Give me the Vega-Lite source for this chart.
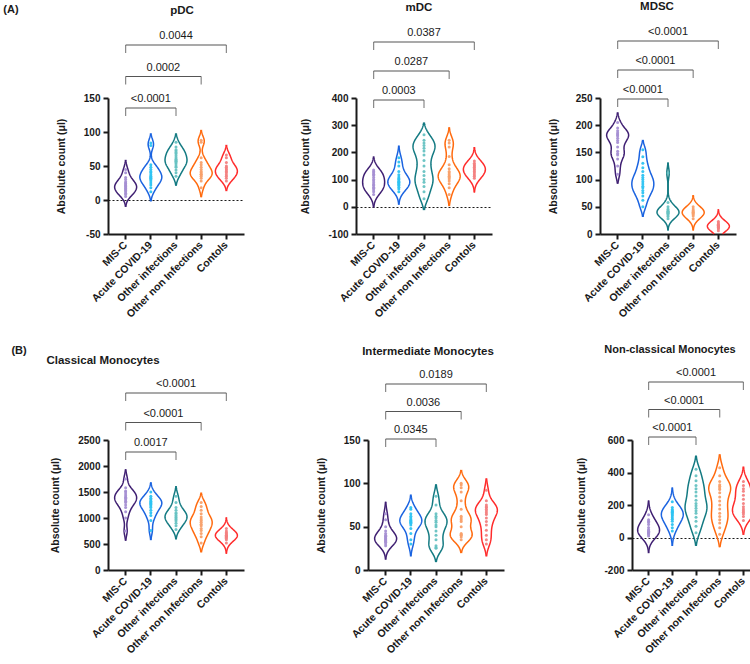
{
"$schema": "https://vega.github.io/schema/vega-lite/v6.json",
"padding": {"left": 3, "top": 0, "right": 0, "bottom": 0},
"background": "white",
"datasets": {
"brk": [
{"rank":1,"cat":"MIS-C"},{"rank":1,"cat":"Other infections"},
{"rank":2,"cat":"MIS-C"},{"rank":2,"cat":"Other non Infections"},
{"rank":3,"cat":"MIS-C"},{"rank":3,"cat":"Contols"}
],
"pv": [
{"panel":"pDC","rank":1,"mid":"Acute COVID-19","p":"<0.0001"},
{"panel":"pDC","rank":2,"mid":"Other infections","p":"0.0002"},
{"panel":"pDC","rank":3,"mid":"Other infections","p":"0.0044"},
{"panel":"mDC","rank":1,"mid":"Acute COVID-19","p":"0.0003"},
{"panel":"mDC","rank":2,"mid":"Other infections","p":"0.0287"},
{"panel":"mDC","rank":3,"mid":"Other infections","p":"0.0387"},
{"panel":"MDSC","rank":1,"mid":"Acute COVID-19","p":"<0.0001"},
{"panel":"MDSC","rank":2,"mid":"Other infections","p":"<0.0001"},
{"panel":"MDSC","rank":3,"mid":"Other infections","p":"<0.0001"},
{"panel":"CM","rank":1,"mid":"Acute COVID-19","p":"0.0017"},
{"panel":"CM","rank":2,"mid":"Other infections","p":"<0.0001"},
{"panel":"CM","rank":3,"mid":"Other infections","p":"<0.0001"},
{"panel":"IM","rank":1,"mid":"Acute COVID-19","p":"0.0345"},
{"panel":"IM","rank":2,"mid":"Other infections","p":"0.0036"},
{"panel":"IM","rank":3,"mid":"Other infections","p":"0.0189"},
{"panel":"NCM","rank":1,"mid":"Acute COVID-19","p":"<0.0001"},
{"panel":"NCM","rank":2,"mid":"Other infections","p":"<0.0001"},
{"panel":"NCM","rank":3,"mid":"Other infections","p":"<0.0001"}
],
"cells": [
{"panel":"pDC","cat":"MIS-C","v":5},{"panel":"pDC","cat":"MIS-C","v":8},{"panel":"pDC","cat":"MIS-C","v":10},{"panel":"pDC","cat":"MIS-C","v":12},{"panel":"pDC","cat":"MIS-C","v":14},{"panel":"pDC","cat":"MIS-C","v":15},{"panel":"pDC","cat":"MIS-C","v":17},{"panel":"pDC","cat":"MIS-C","v":18},{"panel":"pDC","cat":"MIS-C","v":20},{"panel":"pDC","cat":"MIS-C","v":21},{"panel":"pDC","cat":"MIS-C","v":22},{"panel":"pDC","cat":"MIS-C","v":24},{"panel":"pDC","cat":"MIS-C","v":25},{"panel":"pDC","cat":"MIS-C","v":27},{"panel":"pDC","cat":"MIS-C","v":30},{"panel":"pDC","cat":"MIS-C","v":33},{"panel":"pDC","cat":"MIS-C","v":40},{"panel":"pDC","cat":"MIS-C","v":45},
{"panel":"pDC","cat":"Acute COVID-19","v":12},{"panel":"pDC","cat":"Acute COVID-19","v":18},{"panel":"pDC","cat":"Acute COVID-19","v":22},{"panel":"pDC","cat":"Acute COVID-19","v":25},{"panel":"pDC","cat":"Acute COVID-19","v":28},{"panel":"pDC","cat":"Acute COVID-19","v":30},{"panel":"pDC","cat":"Acute COVID-19","v":32},{"panel":"pDC","cat":"Acute COVID-19","v":33},{"panel":"pDC","cat":"Acute COVID-19","v":35},{"panel":"pDC","cat":"Acute COVID-19","v":37},{"panel":"pDC","cat":"Acute COVID-19","v":40},{"panel":"pDC","cat":"Acute COVID-19","v":42},{"panel":"pDC","cat":"Acute COVID-19","v":45},{"panel":"pDC","cat":"Acute COVID-19","v":48},{"panel":"pDC","cat":"Acute COVID-19","v":52},{"panel":"pDC","cat":"Acute COVID-19","v":80},{"panel":"pDC","cat":"Acute COVID-19","v":84},
{"panel":"pDC","cat":"Other infections","v":35},{"panel":"pDC","cat":"Other infections","v":40},{"panel":"pDC","cat":"Other infections","v":44},{"panel":"pDC","cat":"Other infections","v":48},{"panel":"pDC","cat":"Other infections","v":50},{"panel":"pDC","cat":"Other infections","v":53},{"panel":"pDC","cat":"Other infections","v":55},{"panel":"pDC","cat":"Other infections","v":57},{"panel":"pDC","cat":"Other infections","v":58},{"panel":"pDC","cat":"Other infections","v":60},{"panel":"pDC","cat":"Other infections","v":62},{"panel":"pDC","cat":"Other infections","v":65},{"panel":"pDC","cat":"Other infections","v":68},{"panel":"pDC","cat":"Other infections","v":70},{"panel":"pDC","cat":"Other infections","v":72},{"panel":"pDC","cat":"Other infections","v":74},{"panel":"pDC","cat":"Other infections","v":78},{"panel":"pDC","cat":"Other infections","v":85},
{"panel":"pDC","cat":"Other non Infections","v":18},{"panel":"pDC","cat":"Other non Infections","v":28},{"panel":"pDC","cat":"Other non Infections","v":32},{"panel":"pDC","cat":"Other non Infections","v":35},{"panel":"pDC","cat":"Other non Infections","v":37},{"panel":"pDC","cat":"Other non Infections","v":38},{"panel":"pDC","cat":"Other non Infections","v":40},{"panel":"pDC","cat":"Other non Infections","v":42},{"panel":"pDC","cat":"Other non Infections","v":45},{"panel":"pDC","cat":"Other non Infections","v":48},{"panel":"pDC","cat":"Other non Infections","v":52},{"panel":"pDC","cat":"Other non Infections","v":55},{"panel":"pDC","cat":"Other non Infections","v":62},{"panel":"pDC","cat":"Other non Infections","v":85},{"panel":"pDC","cat":"Other non Infections","v":88},
{"panel":"pDC","cat":"Contols","v":28},{"panel":"pDC","cat":"Contols","v":32},{"panel":"pDC","cat":"Contols","v":35},{"panel":"pDC","cat":"Contols","v":37},{"panel":"pDC","cat":"Contols","v":40},{"panel":"pDC","cat":"Contols","v":42},{"panel":"pDC","cat":"Contols","v":44},{"panel":"pDC","cat":"Contols","v":46},{"panel":"pDC","cat":"Contols","v":48},{"panel":"pDC","cat":"Contols","v":50},{"panel":"pDC","cat":"Contols","v":55},{"panel":"pDC","cat":"Contols","v":62},{"panel":"pDC","cat":"Contols","v":66},
{"panel":"mDC","cat":"MIS-C","v":45},{"panel":"mDC","cat":"MIS-C","v":55},{"panel":"mDC","cat":"MIS-C","v":62},{"panel":"mDC","cat":"MIS-C","v":68},{"panel":"mDC","cat":"MIS-C","v":72},{"panel":"mDC","cat":"MIS-C","v":78},{"panel":"mDC","cat":"MIS-C","v":82},{"panel":"mDC","cat":"MIS-C","v":88},{"panel":"mDC","cat":"MIS-C","v":95},{"panel":"mDC","cat":"MIS-C","v":100},{"panel":"mDC","cat":"MIS-C","v":108},{"panel":"mDC","cat":"MIS-C","v":115},{"panel":"mDC","cat":"MIS-C","v":120},{"panel":"mDC","cat":"MIS-C","v":125},{"panel":"mDC","cat":"MIS-C","v":130},{"panel":"mDC","cat":"MIS-C","v":135},
{"panel":"mDC","cat":"Acute COVID-19","v":55},{"panel":"mDC","cat":"Acute COVID-19","v":65},{"panel":"mDC","cat":"Acute COVID-19","v":72},{"panel":"mDC","cat":"Acute COVID-19","v":78},{"panel":"mDC","cat":"Acute COVID-19","v":82},{"panel":"mDC","cat":"Acute COVID-19","v":86},{"panel":"mDC","cat":"Acute COVID-19","v":90},{"panel":"mDC","cat":"Acute COVID-19","v":92},{"panel":"mDC","cat":"Acute COVID-19","v":95},{"panel":"mDC","cat":"Acute COVID-19","v":100},{"panel":"mDC","cat":"Acute COVID-19","v":104},{"panel":"mDC","cat":"Acute COVID-19","v":110},{"panel":"mDC","cat":"Acute COVID-19","v":118},{"panel":"mDC","cat":"Acute COVID-19","v":130},{"panel":"mDC","cat":"Acute COVID-19","v":150},{"panel":"mDC","cat":"Acute COVID-19","v":165},{"panel":"mDC","cat":"Acute COVID-19","v":180},
{"panel":"mDC","cat":"Other infections","v":30},{"panel":"mDC","cat":"Other infections","v":55},{"panel":"mDC","cat":"Other infections","v":75},{"panel":"mDC","cat":"Other infections","v":90},{"panel":"mDC","cat":"Other infections","v":100},{"panel":"mDC","cat":"Other infections","v":115},{"panel":"mDC","cat":"Other infections","v":130},{"panel":"mDC","cat":"Other infections","v":150},{"panel":"mDC","cat":"Other infections","v":170},{"panel":"mDC","cat":"Other infections","v":190},{"panel":"mDC","cat":"Other infections","v":205},{"panel":"mDC","cat":"Other infections","v":215},{"panel":"mDC","cat":"Other infections","v":225},{"panel":"mDC","cat":"Other infections","v":235},{"panel":"mDC","cat":"Other infections","v":245},{"panel":"mDC","cat":"Other infections","v":265},
{"panel":"mDC","cat":"Other non Infections","v":45},{"panel":"mDC","cat":"Other non Infections","v":70},{"panel":"mDC","cat":"Other non Infections","v":85},{"panel":"mDC","cat":"Other non Infections","v":95},{"panel":"mDC","cat":"Other non Infections","v":102},{"panel":"mDC","cat":"Other non Infections","v":108},{"panel":"mDC","cat":"Other non Infections","v":112},{"panel":"mDC","cat":"Other non Infections","v":118},{"panel":"mDC","cat":"Other non Infections","v":124},{"panel":"mDC","cat":"Other non Infections","v":130},{"panel":"mDC","cat":"Other non Infections","v":140},{"panel":"mDC","cat":"Other non Infections","v":155},{"panel":"mDC","cat":"Other non Infections","v":185},{"panel":"mDC","cat":"Other non Infections","v":220},{"panel":"mDC","cat":"Other non Infections","v":235},{"panel":"mDC","cat":"Other non Infections","v":245},
{"panel":"mDC","cat":"Contols","v":105},{"panel":"mDC","cat":"Contols","v":112},{"panel":"mDC","cat":"Contols","v":118},{"panel":"mDC","cat":"Contols","v":124},{"panel":"mDC","cat":"Contols","v":130},{"panel":"mDC","cat":"Contols","v":135},{"panel":"mDC","cat":"Contols","v":140},{"panel":"mDC","cat":"Contols","v":145},{"panel":"mDC","cat":"Contols","v":150},{"panel":"mDC","cat":"Contols","v":155},{"panel":"mDC","cat":"Contols","v":160},{"panel":"mDC","cat":"Contols","v":168},
{"panel":"MDSC","cat":"MIS-C","v":110},{"panel":"MDSC","cat":"MIS-C","v":125},{"panel":"MDSC","cat":"MIS-C","v":138},{"panel":"MDSC","cat":"MIS-C","v":145},{"panel":"MDSC","cat":"MIS-C","v":148},{"panel":"MDSC","cat":"MIS-C","v":152},{"panel":"MDSC","cat":"MIS-C","v":160},{"panel":"MDSC","cat":"MIS-C","v":168},{"panel":"MDSC","cat":"MIS-C","v":172},{"panel":"MDSC","cat":"MIS-C","v":176},{"panel":"MDSC","cat":"MIS-C","v":180},{"panel":"MDSC","cat":"MIS-C","v":182},{"panel":"MDSC","cat":"MIS-C","v":184},{"panel":"MDSC","cat":"MIS-C","v":186},{"panel":"MDSC","cat":"MIS-C","v":190},{"panel":"MDSC","cat":"MIS-C","v":195},{"panel":"MDSC","cat":"MIS-C","v":205},
{"panel":"MDSC","cat":"Acute COVID-19","v":50},{"panel":"MDSC","cat":"Acute COVID-19","v":62},{"panel":"MDSC","cat":"Acute COVID-19","v":70},{"panel":"MDSC","cat":"Acute COVID-19","v":76},{"panel":"MDSC","cat":"Acute COVID-19","v":80},{"panel":"MDSC","cat":"Acute COVID-19","v":85},{"panel":"MDSC","cat":"Acute COVID-19","v":88},{"panel":"MDSC","cat":"Acute COVID-19","v":92},{"panel":"MDSC","cat":"Acute COVID-19","v":96},{"panel":"MDSC","cat":"Acute COVID-19","v":100},{"panel":"MDSC","cat":"Acute COVID-19","v":104},{"panel":"MDSC","cat":"Acute COVID-19","v":108},{"panel":"MDSC","cat":"Acute COVID-19","v":115},{"panel":"MDSC","cat":"Acute COVID-19","v":122},{"panel":"MDSC","cat":"Acute COVID-19","v":130},{"panel":"MDSC","cat":"Acute COVID-19","v":142},{"panel":"MDSC","cat":"Acute COVID-19","v":155},
{"panel":"MDSC","cat":"Other infections","v":28},{"panel":"MDSC","cat":"Other infections","v":32},{"panel":"MDSC","cat":"Other infections","v":35},{"panel":"MDSC","cat":"Other infections","v":37},{"panel":"MDSC","cat":"Other infections","v":38},{"panel":"MDSC","cat":"Other infections","v":40},{"panel":"MDSC","cat":"Other infections","v":41},{"panel":"MDSC","cat":"Other infections","v":42},{"panel":"MDSC","cat":"Other infections","v":44},{"panel":"MDSC","cat":"Other infections","v":46},{"panel":"MDSC","cat":"Other infections","v":50},{"panel":"MDSC","cat":"Other infections","v":58},{"panel":"MDSC","cat":"Other infections","v":112},
{"panel":"MDSC","cat":"Other non Infections","v":28},{"panel":"MDSC","cat":"Other non Infections","v":33},{"panel":"MDSC","cat":"Other non Infections","v":36},{"panel":"MDSC","cat":"Other non Infections","v":38},{"panel":"MDSC","cat":"Other non Infections","v":40},{"panel":"MDSC","cat":"Other non Infections","v":41},{"panel":"MDSC","cat":"Other non Infections","v":43},{"panel":"MDSC","cat":"Other non Infections","v":46},{"panel":"MDSC","cat":"Other non Infections","v":50},
{"panel":"MDSC","cat":"Contols","v":6},{"panel":"MDSC","cat":"Contols","v":9},{"panel":"MDSC","cat":"Contols","v":11},{"panel":"MDSC","cat":"Contols","v":12},{"panel":"MDSC","cat":"Contols","v":13},{"panel":"MDSC","cat":"Contols","v":14},{"panel":"MDSC","cat":"Contols","v":15},{"panel":"MDSC","cat":"Contols","v":16},{"panel":"MDSC","cat":"Contols","v":18},{"panel":"MDSC","cat":"Contols","v":20},{"panel":"MDSC","cat":"Contols","v":23},
{"panel":"CM","cat":"MIS-C","v":750},{"panel":"CM","cat":"MIS-C","v":1000},{"panel":"CM","cat":"MIS-C","v":1120},{"panel":"CM","cat":"MIS-C","v":1200},{"panel":"CM","cat":"MIS-C","v":1250},{"panel":"CM","cat":"MIS-C","v":1300},{"panel":"CM","cat":"MIS-C","v":1320},{"panel":"CM","cat":"MIS-C","v":1350},{"panel":"CM","cat":"MIS-C","v":1380},{"panel":"CM","cat":"MIS-C","v":1400},{"panel":"CM","cat":"MIS-C","v":1430},{"panel":"CM","cat":"MIS-C","v":1460},{"panel":"CM","cat":"MIS-C","v":1500},{"panel":"CM","cat":"MIS-C","v":1520},{"panel":"CM","cat":"MIS-C","v":1580},{"panel":"CM","cat":"MIS-C","v":1750},
{"panel":"CM","cat":"Acute COVID-19","v":760},{"panel":"CM","cat":"Acute COVID-19","v":950},{"panel":"CM","cat":"Acute COVID-19","v":1050},{"panel":"CM","cat":"Acute COVID-19","v":1100},{"panel":"CM","cat":"Acute COVID-19","v":1150},{"panel":"CM","cat":"Acute COVID-19","v":1200},{"panel":"CM","cat":"Acute COVID-19","v":1230},{"panel":"CM","cat":"Acute COVID-19","v":1260},{"panel":"CM","cat":"Acute COVID-19","v":1280},{"panel":"CM","cat":"Acute COVID-19","v":1300},{"panel":"CM","cat":"Acute COVID-19","v":1320},{"panel":"CM","cat":"Acute COVID-19","v":1350},{"panel":"CM","cat":"Acute COVID-19","v":1380},{"panel":"CM","cat":"Acute COVID-19","v":1420},{"panel":"CM","cat":"Acute COVID-19","v":1500},
{"panel":"CM","cat":"Other infections","v":780},{"panel":"CM","cat":"Other infections","v":850},{"panel":"CM","cat":"Other infections","v":900},{"panel":"CM","cat":"Other infections","v":940},{"panel":"CM","cat":"Other infections","v":970},{"panel":"CM","cat":"Other infections","v":1000},{"panel":"CM","cat":"Other infections","v":1020},{"panel":"CM","cat":"Other infections","v":1050},{"panel":"CM","cat":"Other infections","v":1080},{"panel":"CM","cat":"Other infections","v":1100},{"panel":"CM","cat":"Other infections","v":1150},{"panel":"CM","cat":"Other infections","v":1200},{"panel":"CM","cat":"Other infections","v":1300},{"panel":"CM","cat":"Other infections","v":1420},
{"panel":"CM","cat":"Other non Infections","v":520},{"panel":"CM","cat":"Other non Infections","v":640},{"panel":"CM","cat":"Other non Infections","v":700},{"panel":"CM","cat":"Other non Infections","v":760},{"panel":"CM","cat":"Other non Infections","v":800},{"panel":"CM","cat":"Other non Infections","v":850},{"panel":"CM","cat":"Other non Infections","v":880},{"panel":"CM","cat":"Other non Infections","v":920},{"panel":"CM","cat":"Other non Infections","v":950},{"panel":"CM","cat":"Other non Infections","v":980},{"panel":"CM","cat":"Other non Infections","v":1020},{"panel":"CM","cat":"Other non Infections","v":1080},{"panel":"CM","cat":"Other non Infections","v":1150},{"panel":"CM","cat":"Other non Infections","v":1220},{"panel":"CM","cat":"Other non Infections","v":1300},
{"panel":"CM","cat":"Contols","v":520},{"panel":"CM","cat":"Contols","v":580},{"panel":"CM","cat":"Contols","v":610},{"panel":"CM","cat":"Contols","v":630},{"panel":"CM","cat":"Contols","v":650},{"panel":"CM","cat":"Contols","v":660},{"panel":"CM","cat":"Contols","v":670},{"panel":"CM","cat":"Contols","v":680},{"panel":"CM","cat":"Contols","v":700},{"panel":"CM","cat":"Contols","v":720},{"panel":"CM","cat":"Contols","v":750},{"panel":"CM","cat":"Contols","v":800},
{"panel":"IM","cat":"MIS-C","v":28},{"panel":"IM","cat":"MIS-C","v":30},{"panel":"IM","cat":"MIS-C","v":32},{"panel":"IM","cat":"MIS-C","v":33},{"panel":"IM","cat":"MIS-C","v":34},{"panel":"IM","cat":"MIS-C","v":35},{"panel":"IM","cat":"MIS-C","v":36},{"panel":"IM","cat":"MIS-C","v":37},{"panel":"IM","cat":"MIS-C","v":38},{"panel":"IM","cat":"MIS-C","v":39},{"panel":"IM","cat":"MIS-C","v":40},{"panel":"IM","cat":"MIS-C","v":42},{"panel":"IM","cat":"MIS-C","v":45},{"panel":"IM","cat":"MIS-C","v":50},{"panel":"IM","cat":"MIS-C","v":58},{"panel":"IM","cat":"MIS-C","v":65},
{"panel":"IM","cat":"Acute COVID-19","v":30},{"panel":"IM","cat":"Acute COVID-19","v":35},{"panel":"IM","cat":"Acute COVID-19","v":42},{"panel":"IM","cat":"Acute COVID-19","v":48},{"panel":"IM","cat":"Acute COVID-19","v":52},{"panel":"IM","cat":"Acute COVID-19","v":54},{"panel":"IM","cat":"Acute COVID-19","v":55},{"panel":"IM","cat":"Acute COVID-19","v":56},{"panel":"IM","cat":"Acute COVID-19","v":57},{"panel":"IM","cat":"Acute COVID-19","v":58},{"panel":"IM","cat":"Acute COVID-19","v":60},{"panel":"IM","cat":"Acute COVID-19","v":62},{"panel":"IM","cat":"Acute COVID-19","v":65},{"panel":"IM","cat":"Acute COVID-19","v":70},{"panel":"IM","cat":"Acute COVID-19","v":72},
{"panel":"IM","cat":"Other infections","v":25},{"panel":"IM","cat":"Other infections","v":26},{"panel":"IM","cat":"Other infections","v":28},{"panel":"IM","cat":"Other infections","v":35},{"panel":"IM","cat":"Other infections","v":40},{"panel":"IM","cat":"Other infections","v":45},{"panel":"IM","cat":"Other infections","v":50},{"panel":"IM","cat":"Other infections","v":52},{"panel":"IM","cat":"Other infections","v":55},{"panel":"IM","cat":"Other infections","v":57},{"panel":"IM","cat":"Other infections","v":60},{"panel":"IM","cat":"Other infections","v":62},{"panel":"IM","cat":"Other infections","v":65},{"panel":"IM","cat":"Other infections","v":75},{"panel":"IM","cat":"Other infections","v":85},
{"panel":"IM","cat":"Other non Infections","v":35},{"panel":"IM","cat":"Other non Infections","v":38},{"panel":"IM","cat":"Other non Infections","v":40},{"panel":"IM","cat":"Other non Infections","v":41},{"panel":"IM","cat":"Other non Infections","v":42},{"panel":"IM","cat":"Other non Infections","v":50},{"panel":"IM","cat":"Other non Infections","v":56},{"panel":"IM","cat":"Other non Infections","v":58},{"panel":"IM","cat":"Other non Infections","v":60},{"panel":"IM","cat":"Other non Infections","v":62},{"panel":"IM","cat":"Other non Infections","v":70},{"panel":"IM","cat":"Other non Infections","v":80},{"panel":"IM","cat":"Other non Infections","v":90},{"panel":"IM","cat":"Other non Infections","v":95},{"panel":"IM","cat":"Other non Infections","v":98},{"panel":"IM","cat":"Other non Infections","v":100},
{"panel":"IM","cat":"Contols","v":30},{"panel":"IM","cat":"Contols","v":35},{"panel":"IM","cat":"Contols","v":40},{"panel":"IM","cat":"Contols","v":46},{"panel":"IM","cat":"Contols","v":52},{"panel":"IM","cat":"Contols","v":56},{"panel":"IM","cat":"Contols","v":60},{"panel":"IM","cat":"Contols","v":64},{"panel":"IM","cat":"Contols","v":66},{"panel":"IM","cat":"Contols","v":68},{"panel":"IM","cat":"Contols","v":70},{"panel":"IM","cat":"Contols","v":72},{"panel":"IM","cat":"Contols","v":73},{"panel":"IM","cat":"Contols","v":75},{"panel":"IM","cat":"Contols","v":80},{"panel":"IM","cat":"Contols","v":92},
{"panel":"NCM","cat":"MIS-C","v":10},{"panel":"NCM","cat":"MIS-C","v":18},{"panel":"NCM","cat":"MIS-C","v":24},{"panel":"NCM","cat":"MIS-C","v":28},{"panel":"NCM","cat":"MIS-C","v":32},{"panel":"NCM","cat":"MIS-C","v":35},{"panel":"NCM","cat":"MIS-C","v":38},{"panel":"NCM","cat":"MIS-C","v":42},{"panel":"NCM","cat":"MIS-C","v":50},{"panel":"NCM","cat":"MIS-C","v":62},{"panel":"NCM","cat":"MIS-C","v":80},{"panel":"NCM","cat":"MIS-C","v":92},{"panel":"NCM","cat":"MIS-C","v":100},{"panel":"NCM","cat":"MIS-C","v":110},{"panel":"NCM","cat":"MIS-C","v":140},
{"panel":"NCM","cat":"Acute COVID-19","v":40},{"panel":"NCM","cat":"Acute COVID-19","v":60},{"panel":"NCM","cat":"Acute COVID-19","v":80},{"panel":"NCM","cat":"Acute COVID-19","v":100},{"panel":"NCM","cat":"Acute COVID-19","v":112},{"panel":"NCM","cat":"Acute COVID-19","v":122},{"panel":"NCM","cat":"Acute COVID-19","v":132},{"panel":"NCM","cat":"Acute COVID-19","v":140},{"panel":"NCM","cat":"Acute COVID-19","v":148},{"panel":"NCM","cat":"Acute COVID-19","v":155},{"panel":"NCM","cat":"Acute COVID-19","v":160},{"panel":"NCM","cat":"Acute COVID-19","v":165},{"panel":"NCM","cat":"Acute COVID-19","v":172},{"panel":"NCM","cat":"Acute COVID-19","v":185},{"panel":"NCM","cat":"Acute COVID-19","v":220},
{"panel":"NCM","cat":"Other infections","v":30},{"panel":"NCM","cat":"Other infections","v":70},{"panel":"NCM","cat":"Other infections","v":100},{"panel":"NCM","cat":"Other infections","v":125},{"panel":"NCM","cat":"Other infections","v":150},{"panel":"NCM","cat":"Other infections","v":165},{"panel":"NCM","cat":"Other infections","v":180},{"panel":"NCM","cat":"Other infections","v":195},{"panel":"NCM","cat":"Other infections","v":210},{"panel":"NCM","cat":"Other infections","v":230},{"panel":"NCM","cat":"Other infections","v":255},{"panel":"NCM","cat":"Other infections","v":280},{"panel":"NCM","cat":"Other infections","v":300},{"panel":"NCM","cat":"Other infections","v":320},{"panel":"NCM","cat":"Other infections","v":350},{"panel":"NCM","cat":"Other infections","v":380},{"panel":"NCM","cat":"Other infections","v":420},
{"panel":"NCM","cat":"Other non Infections","v":20},{"panel":"NCM","cat":"Other non Infections","v":60},{"panel":"NCM","cat":"Other non Infections","v":90},{"panel":"NCM","cat":"Other non Infections","v":110},{"panel":"NCM","cat":"Other non Infections","v":130},{"panel":"NCM","cat":"Other non Infections","v":150},{"panel":"NCM","cat":"Other non Infections","v":175},{"panel":"NCM","cat":"Other non Infections","v":200},{"panel":"NCM","cat":"Other non Infections","v":225},{"panel":"NCM","cat":"Other non Infections","v":250},{"panel":"NCM","cat":"Other non Infections","v":275},{"panel":"NCM","cat":"Other non Infections","v":295},{"panel":"NCM","cat":"Other non Infections","v":305},{"panel":"NCM","cat":"Other non Infections","v":315},{"panel":"NCM","cat":"Other non Infections","v":325},{"panel":"NCM","cat":"Other non Infections","v":345},{"panel":"NCM","cat":"Other non Infections","v":380},{"panel":"NCM","cat":"Other non Infections","v":430},
{"panel":"NCM","cat":"Contols","v":105},{"panel":"NCM","cat":"Contols","v":130},{"panel":"NCM","cat":"Contols","v":145},{"panel":"NCM","cat":"Contols","v":155},{"panel":"NCM","cat":"Contols","v":165},{"panel":"NCM","cat":"Contols","v":175},{"panel":"NCM","cat":"Contols","v":190},{"panel":"NCM","cat":"Contols","v":210},{"panel":"NCM","cat":"Contols","v":235},{"panel":"NCM","cat":"Contols","v":260},{"panel":"NCM","cat":"Contols","v":285},{"panel":"NCM","cat":"Contols","v":300},{"panel":"NCM","cat":"Contols","v":320},{"panel":"NCM","cat":"Contols","v":345}
]
},
"config": {
"view": {"stroke": null},
"font": "Liberation Sans",
"axis": {"domainColor": "#1a1a1a", "domainWidth": 2, "tickColor": "#1a1a1a", "tickWidth": 2, "tickSize": 5, "labelFont": "Liberation Sans", "labelFontWeight": "bold", "labelFontSize": 10, "labelColor": "#1a1a1a", "titleFont": "Liberation Sans", "titleFontWeight": "bold", "titleFontSize": 10.5, "titleColor": "#1a1a1a", "grid": false, "labelOverlap": false},
"axisX": {"labelAngle": -45, "labelAlign": "right", "labelBaseline": "middle", "labelPadding": 4, "labelFontSize": 10.5, "title": null},
"axisY": {"titlePadding": 17, "labelPadding": 3, "labelExpr": "'' + datum.value", "tickCount": 20},
"title": {"font": "Liberation Sans", "fontWeight": "bold", "fontSize": 11.5, "color": "#1a1a1a"}
},
"spacing": 24,
"vconcat": [
{
"title": {"text": "(A)", "anchor": "start", "fontSize": 11, "offset": -14, "dx": -53},
"spacing": 56,
"hconcat": [
{
"width": 136, "height": 136,
"title": {"text": "pDC", "anchor": "middle", "frame": "group", "offset": 14, "dx": 6},
"layer": [
{"data": {"name": "cells"}, "transform": [{"filter": "datum.panel === 'pDC'"}],
"layer": [
{"transform":[{"filter":"datum.cat === 'MIS-C'"},{"density":"v","groupby":["cat"],"bandwidth":7,"extent":[-50,150],"steps":200},{"filter":"datum.density > 0.0005"}],"layer":[{"mark":{"type":"line","color":"#3f1f72","strokeWidth":1.5},"encoding":{"x":{"field":"cat","type":"nominal"},"xOffset":{"field":"density","type":"quantitative","scale":{"zero":true,"nice":false,"range":[12.6,1.6]}},"y":{"field":"value","type":"quantitative"},"order":{"field":"value","type":"quantitative"}}},{"mark":{"type":"line","color":"#3f1f72","strokeWidth":1.5},"encoding":{"x":{"field":"cat","type":"nominal"},"xOffset":{"field":"density","type":"quantitative","scale":{"zero":true,"nice":false,"range":[12.6,23.6]}},"y":{"field":"value","type":"quantitative"},"order":{"field":"value","type":"quantitative"}}}],"resolve":{"scale":{"xOffset":"independent"}}},
{"transform":[{"filter":"datum.cat === 'Acute COVID-19'"},{"density":"v","groupby":["cat"],"bandwidth":7,"extent":[-50,150],"steps":200},{"filter":"datum.density > 0.0005"}],"layer":[{"mark":{"type":"line","color":"#1a63e0","strokeWidth":1.5},"encoding":{"x":{"field":"cat","type":"nominal"},"xOffset":{"field":"density","type":"quantitative","scale":{"zero":true,"nice":false,"range":[12.6,1.6]}},"y":{"field":"value","type":"quantitative"},"order":{"field":"value","type":"quantitative"}}},{"mark":{"type":"line","color":"#1a63e0","strokeWidth":1.5},"encoding":{"x":{"field":"cat","type":"nominal"},"xOffset":{"field":"density","type":"quantitative","scale":{"zero":true,"nice":false,"range":[12.6,23.6]}},"y":{"field":"value","type":"quantitative"},"order":{"field":"value","type":"quantitative"}}}],"resolve":{"scale":{"xOffset":"independent"}}},
{"transform":[{"filter":"datum.cat === 'Other infections'"},{"density":"v","groupby":["cat"],"bandwidth":7,"extent":[-50,150],"steps":200},{"filter":"datum.density > 0.0005"}],"layer":[{"mark":{"type":"line","color":"#137a82","strokeWidth":1.5},"encoding":{"x":{"field":"cat","type":"nominal"},"xOffset":{"field":"density","type":"quantitative","scale":{"zero":true,"nice":false,"range":[12.6,1.6]}},"y":{"field":"value","type":"quantitative"},"order":{"field":"value","type":"quantitative"}}},{"mark":{"type":"line","color":"#137a82","strokeWidth":1.5},"encoding":{"x":{"field":"cat","type":"nominal"},"xOffset":{"field":"density","type":"quantitative","scale":{"zero":true,"nice":false,"range":[12.6,23.6]}},"y":{"field":"value","type":"quantitative"},"order":{"field":"value","type":"quantitative"}}}],"resolve":{"scale":{"xOffset":"independent"}}},
{"transform":[{"filter":"datum.cat === 'Other non Infections'"},{"density":"v","groupby":["cat"],"bandwidth":7,"extent":[-50,150],"steps":200},{"filter":"datum.density > 0.0005"}],"layer":[{"mark":{"type":"line","color":"#ff6a0e","strokeWidth":1.5},"encoding":{"x":{"field":"cat","type":"nominal"},"xOffset":{"field":"density","type":"quantitative","scale":{"zero":true,"nice":false,"range":[12.6,1.6]}},"y":{"field":"value","type":"quantitative"},"order":{"field":"value","type":"quantitative"}}},{"mark":{"type":"line","color":"#ff6a0e","strokeWidth":1.5},"encoding":{"x":{"field":"cat","type":"nominal"},"xOffset":{"field":"density","type":"quantitative","scale":{"zero":true,"nice":false,"range":[12.6,23.6]}},"y":{"field":"value","type":"quantitative"},"order":{"field":"value","type":"quantitative"}}}],"resolve":{"scale":{"xOffset":"independent"}}},
{"transform":[{"filter":"datum.cat === 'Contols'"},{"density":"v","groupby":["cat"],"bandwidth":7,"extent":[-50,150],"steps":200},{"filter":"datum.density > 0.0005"}],"layer":[{"mark":{"type":"line","color":"#ff2b2b","strokeWidth":1.5},"encoding":{"x":{"field":"cat","type":"nominal"},"xOffset":{"field":"density","type":"quantitative","scale":{"zero":true,"nice":false,"range":[12.6,1.6]}},"y":{"field":"value","type":"quantitative"},"order":{"field":"value","type":"quantitative"}}},{"mark":{"type":"line","color":"#ff2b2b","strokeWidth":1.5},"encoding":{"x":{"field":"cat","type":"nominal"},"xOffset":{"field":"density","type":"quantitative","scale":{"zero":true,"nice":false,"range":[12.6,23.6]}},"y":{"field":"value","type":"quantitative"},"order":{"field":"value","type":"quantitative"}}}],"resolve":{"scale":{"xOffset":"independent"}}},
{"mark":{"type":"circle","size":9,"opacity":0.95},"encoding":{"x":{"field":"cat","type":"nominal","scale":{"type":"band","domain":["MIS-C","Acute COVID-19","Other infections","Other non Infections","Contols"],"paddingInner":0,"paddingOuter":0.2},"axis":{"title":null}},"y":{"field":"v","type":"quantitative","scale":{"domain":[-50,150],"nice":false,"zero":false},"axis":{"title":"Absolute count (μl)","values":[-50,0,50,100,150],"tickCount":20,"labelOverlap":false,"grid":true,"gridColor":"#1a1a1a","gridDash":[2,2],"gridWidth":1.2,"gridOpacity":{"condition":{"test":"datum.value === 0","value":1},"value":0}}},"fill":{"field":"cat","type":"nominal","scale":{"domain":["MIS-C","Acute COVID-19","Other infections","Other non Infections","Contols"],"range":["#a58fd3","#2cc3f2","#66c2c2","#f8a06a","#f37f7f"]},"legend":null}}}
],
"resolve": {"scale": {"xOffset": "independent"}}},
{"layer": [
{"data":{"name":"brk"},"mark":{"type":"line","color":"#555555","strokeWidth":1.2},"encoding":{"x":{"field":"cat","type":"nominal"},"y":{"field":"rank","type":"quantitative","scale":{"domain":[1,3],"range":[10,-53],"zero":false,"nice":false},"axis":null},"detail":{"field":"rank","type":"nominal"}}},
{"data":{"name":"brk"},"mark":{"type":"tick","orient":"vertical","size":8,"thickness":1.2,"yOffset":4,"color":"#555555"},"encoding":{"x":{"field":"cat","type":"nominal"},"y":{"field":"rank","type":"quantitative","scale":{"domain":[1,3],"range":[10,-53],"zero":false,"nice":false},"axis":null}}},
{"data":{"name":"pv"},"transform":[{"filter":"datum.panel === 'pDC' && datum.rank !== 2"}],"mark":{"type":"text","baseline":"bottom","dy":-4,"fontSize":11,"font":"Liberation Sans","color":"#1a1a1a"},"encoding":{"x":{"field":"mid","type":"nominal","bandPosition":0.5},"y":{"field":"rank","type":"quantitative","scale":{"domain":[1,3],"range":[10,-53],"zero":false,"nice":false},"axis":null},"text":{"field":"p","type":"nominal"}}},
{"data":{"name":"pv"},"transform":[{"filter":"datum.panel === 'pDC' && datum.rank === 2"}],"mark":{"type":"text","baseline":"bottom","dy":-4,"fontSize":11,"font":"Liberation Sans","color":"#1a1a1a"},"encoding":{"x":{"field":"mid","type":"nominal","bandPosition":0},"y":{"field":"rank","type":"quantitative","scale":{"domain":[1,3],"range":[10,-53],"zero":false,"nice":false},"axis":null},"text":{"field":"p","type":"nominal"}}}
]}
],
"resolve": {"scale": {"y": "independent"}}
},
{
"width": 136, "height": 136,
"title": {"text": "mDC", "anchor": "middle", "frame": "group", "offset": 14, "dx": -5},
"layer": [
{"data": {"name": "cells"}, "transform": [{"filter": "datum.panel === 'mDC'"}],
"layer": [
{"transform":[{"filter":"datum.cat === 'MIS-C'"},{"density":"v","groupby":["cat"],"bandwidth":22,"extent":[-100,400],"steps":200},{"filter":"datum.density > 0.00015"}],"layer":[{"mark":{"type":"line","color":"#3f1f72","strokeWidth":1.5},"encoding":{"x":{"field":"cat","type":"nominal"},"xOffset":{"field":"density","type":"quantitative","scale":{"zero":true,"nice":false,"range":[12.6,1.6]}},"y":{"field":"value","type":"quantitative"},"order":{"field":"value","type":"quantitative"}}},{"mark":{"type":"line","color":"#3f1f72","strokeWidth":1.5},"encoding":{"x":{"field":"cat","type":"nominal"},"xOffset":{"field":"density","type":"quantitative","scale":{"zero":true,"nice":false,"range":[12.6,23.6]}},"y":{"field":"value","type":"quantitative"},"order":{"field":"value","type":"quantitative"}}}],"resolve":{"scale":{"xOffset":"independent"}}},
{"transform":[{"filter":"datum.cat === 'Acute COVID-19'"},{"density":"v","groupby":["cat"],"bandwidth":22,"extent":[-100,400],"steps":200},{"filter":"datum.density > 0.00015"}],"layer":[{"mark":{"type":"line","color":"#1a63e0","strokeWidth":1.5},"encoding":{"x":{"field":"cat","type":"nominal"},"xOffset":{"field":"density","type":"quantitative","scale":{"zero":true,"nice":false,"range":[12.6,1.6]}},"y":{"field":"value","type":"quantitative"},"order":{"field":"value","type":"quantitative"}}},{"mark":{"type":"line","color":"#1a63e0","strokeWidth":1.5},"encoding":{"x":{"field":"cat","type":"nominal"},"xOffset":{"field":"density","type":"quantitative","scale":{"zero":true,"nice":false,"range":[12.6,23.6]}},"y":{"field":"value","type":"quantitative"},"order":{"field":"value","type":"quantitative"}}}],"resolve":{"scale":{"xOffset":"independent"}}},
{"transform":[{"filter":"datum.cat === 'Other infections'"},{"density":"v","groupby":["cat"],"bandwidth":22,"extent":[-100,400],"steps":200},{"filter":"datum.density > 0.00015"}],"layer":[{"mark":{"type":"line","color":"#137a82","strokeWidth":1.5},"encoding":{"x":{"field":"cat","type":"nominal"},"xOffset":{"field":"density","type":"quantitative","scale":{"zero":true,"nice":false,"range":[12.6,1.6]}},"y":{"field":"value","type":"quantitative"},"order":{"field":"value","type":"quantitative"}}},{"mark":{"type":"line","color":"#137a82","strokeWidth":1.5},"encoding":{"x":{"field":"cat","type":"nominal"},"xOffset":{"field":"density","type":"quantitative","scale":{"zero":true,"nice":false,"range":[12.6,23.6]}},"y":{"field":"value","type":"quantitative"},"order":{"field":"value","type":"quantitative"}}}],"resolve":{"scale":{"xOffset":"independent"}}},
{"transform":[{"filter":"datum.cat === 'Other non Infections'"},{"density":"v","groupby":["cat"],"bandwidth":22,"extent":[-100,400],"steps":200},{"filter":"datum.density > 0.00015"}],"layer":[{"mark":{"type":"line","color":"#ff6a0e","strokeWidth":1.5},"encoding":{"x":{"field":"cat","type":"nominal"},"xOffset":{"field":"density","type":"quantitative","scale":{"zero":true,"nice":false,"range":[12.6,1.6]}},"y":{"field":"value","type":"quantitative"},"order":{"field":"value","type":"quantitative"}}},{"mark":{"type":"line","color":"#ff6a0e","strokeWidth":1.5},"encoding":{"x":{"field":"cat","type":"nominal"},"xOffset":{"field":"density","type":"quantitative","scale":{"zero":true,"nice":false,"range":[12.6,23.6]}},"y":{"field":"value","type":"quantitative"},"order":{"field":"value","type":"quantitative"}}}],"resolve":{"scale":{"xOffset":"independent"}}},
{"transform":[{"filter":"datum.cat === 'Contols'"},{"density":"v","groupby":["cat"],"bandwidth":22,"extent":[-100,400],"steps":200},{"filter":"datum.density > 0.00015"}],"layer":[{"mark":{"type":"line","color":"#ff2b2b","strokeWidth":1.5},"encoding":{"x":{"field":"cat","type":"nominal"},"xOffset":{"field":"density","type":"quantitative","scale":{"zero":true,"nice":false,"range":[12.6,1.6]}},"y":{"field":"value","type":"quantitative"},"order":{"field":"value","type":"quantitative"}}},{"mark":{"type":"line","color":"#ff2b2b","strokeWidth":1.5},"encoding":{"x":{"field":"cat","type":"nominal"},"xOffset":{"field":"density","type":"quantitative","scale":{"zero":true,"nice":false,"range":[12.6,23.6]}},"y":{"field":"value","type":"quantitative"},"order":{"field":"value","type":"quantitative"}}}],"resolve":{"scale":{"xOffset":"independent"}}},
{"mark":{"type":"circle","size":9,"opacity":0.95},"encoding":{"x":{"field":"cat","type":"nominal","scale":{"type":"band","domain":["MIS-C","Acute COVID-19","Other infections","Other non Infections","Contols"],"paddingInner":0,"paddingOuter":0.2},"axis":{"title":null}},"y":{"field":"v","type":"quantitative","scale":{"domain":[-100,400],"nice":false,"zero":false},"axis":{"title":"Absolute count (μl)","values":[-100,0,100,200,300,400],"tickCount":20,"labelOverlap":false,"grid":true,"gridColor":"#1a1a1a","gridDash":[2,2],"gridWidth":1.2,"gridOpacity":{"condition":{"test":"datum.value === 0","value":1},"value":0}}},"fill":{"field":"cat","type":"nominal","scale":{"domain":["MIS-C","Acute COVID-19","Other infections","Other non Infections","Contols"],"range":["#a58fd3","#2cc3f2","#66c2c2","#f8a06a","#f37f7f"]},"legend":null}}}
],
"resolve": {"scale": {"xOffset": "independent"}}},
{"layer": [
{"data":{"name":"brk"},"mark":{"type":"line","color":"#555555","strokeWidth":1.2},"encoding":{"x":{"field":"cat","type":"nominal"},"y":{"field":"rank","type":"quantitative","scale":{"domain":[1,3],"range":[2,-56],"zero":false,"nice":false},"axis":null},"detail":{"field":"rank","type":"nominal"}}},
{"data":{"name":"brk"},"mark":{"type":"tick","orient":"vertical","size":8,"thickness":1.2,"yOffset":4,"color":"#555555"},"encoding":{"x":{"field":"cat","type":"nominal"},"y":{"field":"rank","type":"quantitative","scale":{"domain":[1,3],"range":[2,-56],"zero":false,"nice":false},"axis":null}}},
{"data":{"name":"pv"},"transform":[{"filter":"datum.panel === 'mDC' && datum.rank !== 2"}],"mark":{"type":"text","baseline":"bottom","dy":-4,"fontSize":11,"font":"Liberation Sans","color":"#1a1a1a"},"encoding":{"x":{"field":"mid","type":"nominal","bandPosition":0.5},"y":{"field":"rank","type":"quantitative","scale":{"domain":[1,3],"range":[2,-56],"zero":false,"nice":false},"axis":null},"text":{"field":"p","type":"nominal"}}},
{"data":{"name":"pv"},"transform":[{"filter":"datum.panel === 'mDC' && datum.rank === 2"}],"mark":{"type":"text","baseline":"bottom","dy":-4,"fontSize":11,"font":"Liberation Sans","color":"#1a1a1a"},"encoding":{"x":{"field":"mid","type":"nominal","bandPosition":0},"y":{"field":"rank","type":"quantitative","scale":{"domain":[1,3],"range":[2,-56],"zero":false,"nice":false},"axis":null},"text":{"field":"p","type":"nominal"}}}
]}
],
"resolve": {"scale": {"y": "independent"}}
},
{
"width": 136, "height": 136,
"title": {"text": "MDSC", "anchor": "middle", "frame": "group", "offset": 14, "dx": -11},
"layer": [
{"data": {"name": "cells"}, "transform": [{"filter": "datum.panel === 'MDSC'"}],
"layer": [
{"transform":[{"filter":"datum.cat === 'MIS-C'"},{"density":"v","groupby":["cat"],"bandwidth":9,"extent":[0,260],"steps":200},{"filter":"datum.density > 0.0003"}],"layer":[{"mark":{"type":"line","color":"#3f1f72","strokeWidth":1.5},"encoding":{"x":{"field":"cat","type":"nominal"},"xOffset":{"field":"density","type":"quantitative","scale":{"zero":true,"nice":false,"range":[12.6,1.6]}},"y":{"field":"value","type":"quantitative"},"order":{"field":"value","type":"quantitative"}}},{"mark":{"type":"line","color":"#3f1f72","strokeWidth":1.5},"encoding":{"x":{"field":"cat","type":"nominal"},"xOffset":{"field":"density","type":"quantitative","scale":{"zero":true,"nice":false,"range":[12.6,23.6]}},"y":{"field":"value","type":"quantitative"},"order":{"field":"value","type":"quantitative"}}}],"resolve":{"scale":{"xOffset":"independent"}}},
{"transform":[{"filter":"datum.cat === 'Acute COVID-19'"},{"density":"v","groupby":["cat"],"bandwidth":9,"extent":[0,260],"steps":200},{"filter":"datum.density > 0.0003"}],"layer":[{"mark":{"type":"line","color":"#1a63e0","strokeWidth":1.5},"encoding":{"x":{"field":"cat","type":"nominal"},"xOffset":{"field":"density","type":"quantitative","scale":{"zero":true,"nice":false,"range":[12.6,1.6]}},"y":{"field":"value","type":"quantitative"},"order":{"field":"value","type":"quantitative"}}},{"mark":{"type":"line","color":"#1a63e0","strokeWidth":1.5},"encoding":{"x":{"field":"cat","type":"nominal"},"xOffset":{"field":"density","type":"quantitative","scale":{"zero":true,"nice":false,"range":[12.6,23.6]}},"y":{"field":"value","type":"quantitative"},"order":{"field":"value","type":"quantitative"}}}],"resolve":{"scale":{"xOffset":"independent"}}},
{"transform":[{"filter":"datum.cat === 'Other infections'"},{"density":"v","groupby":["cat"],"bandwidth":9,"extent":[0,260],"steps":200},{"filter":"datum.density > 0.0003"}],"layer":[{"mark":{"type":"line","color":"#137a82","strokeWidth":1.5},"encoding":{"x":{"field":"cat","type":"nominal"},"xOffset":{"field":"density","type":"quantitative","scale":{"zero":true,"nice":false,"range":[12.6,1.6]}},"y":{"field":"value","type":"quantitative"},"order":{"field":"value","type":"quantitative"}}},{"mark":{"type":"line","color":"#137a82","strokeWidth":1.5},"encoding":{"x":{"field":"cat","type":"nominal"},"xOffset":{"field":"density","type":"quantitative","scale":{"zero":true,"nice":false,"range":[12.6,23.6]}},"y":{"field":"value","type":"quantitative"},"order":{"field":"value","type":"quantitative"}}}],"resolve":{"scale":{"xOffset":"independent"}}},
{"transform":[{"filter":"datum.cat === 'Other non Infections'"},{"density":"v","groupby":["cat"],"bandwidth":9,"extent":[0,260],"steps":200},{"filter":"datum.density > 0.0003"}],"layer":[{"mark":{"type":"line","color":"#ff6a0e","strokeWidth":1.5},"encoding":{"x":{"field":"cat","type":"nominal"},"xOffset":{"field":"density","type":"quantitative","scale":{"zero":true,"nice":false,"range":[12.6,1.6]}},"y":{"field":"value","type":"quantitative"},"order":{"field":"value","type":"quantitative"}}},{"mark":{"type":"line","color":"#ff6a0e","strokeWidth":1.5},"encoding":{"x":{"field":"cat","type":"nominal"},"xOffset":{"field":"density","type":"quantitative","scale":{"zero":true,"nice":false,"range":[12.6,23.6]}},"y":{"field":"value","type":"quantitative"},"order":{"field":"value","type":"quantitative"}}}],"resolve":{"scale":{"xOffset":"independent"}}},
{"transform":[{"filter":"datum.cat === 'Contols'"},{"density":"v","groupby":["cat"],"bandwidth":9,"extent":[0,260],"steps":200},{"filter":"datum.density > 0.0003"}],"layer":[{"mark":{"type":"line","color":"#ff2b2b","strokeWidth":1.5},"encoding":{"x":{"field":"cat","type":"nominal"},"xOffset":{"field":"density","type":"quantitative","scale":{"zero":true,"nice":false,"range":[12.6,1.6]}},"y":{"field":"value","type":"quantitative"},"order":{"field":"value","type":"quantitative"}}},{"mark":{"type":"line","color":"#ff2b2b","strokeWidth":1.5},"encoding":{"x":{"field":"cat","type":"nominal"},"xOffset":{"field":"density","type":"quantitative","scale":{"zero":true,"nice":false,"range":[12.6,23.6]}},"y":{"field":"value","type":"quantitative"},"order":{"field":"value","type":"quantitative"}}}],"resolve":{"scale":{"xOffset":"independent"}}},
{"mark":{"type":"circle","size":9,"opacity":0.95},"encoding":{"x":{"field":"cat","type":"nominal","scale":{"type":"band","domain":["MIS-C","Acute COVID-19","Other infections","Other non Infections","Contols"],"paddingInner":0,"paddingOuter":0.2},"axis":{"title":null}},"y":{"field":"v","type":"quantitative","scale":{"domain":[0,250],"nice":false,"zero":false},"axis":{"title":"Absolute count (μl)","values":[0,50,100,150,200,250],"tickCount":20,"labelOverlap":false}},"fill":{"field":"cat","type":"nominal","scale":{"domain":["MIS-C","Acute COVID-19","Other infections","Other non Infections","Contols"],"range":["#a58fd3","#2cc3f2","#66c2c2","#f8a06a","#f37f7f"]},"legend":null}}}
],
"resolve": {"scale": {"xOffset": "independent"}}},
{"layer": [
{"data":{"name":"brk"},"mark":{"type":"line","color":"#555555","strokeWidth":1.2},"encoding":{"x":{"field":"cat","type":"nominal"},"y":{"field":"rank","type":"quantitative","scale":{"domain":[1,3],"range":[1,-57],"zero":false,"nice":false},"axis":null},"detail":{"field":"rank","type":"nominal"}}},
{"data":{"name":"brk"},"mark":{"type":"tick","orient":"vertical","size":8,"thickness":1.2,"yOffset":4,"color":"#555555"},"encoding":{"x":{"field":"cat","type":"nominal"},"y":{"field":"rank","type":"quantitative","scale":{"domain":[1,3],"range":[1,-57],"zero":false,"nice":false},"axis":null}}},
{"data":{"name":"pv"},"transform":[{"filter":"datum.panel === 'MDSC' && datum.rank !== 2"}],"mark":{"type":"text","baseline":"bottom","dy":-4,"fontSize":11,"font":"Liberation Sans","color":"#1a1a1a"},"encoding":{"x":{"field":"mid","type":"nominal","bandPosition":0.5},"y":{"field":"rank","type":"quantitative","scale":{"domain":[1,3],"range":[1,-57],"zero":false,"nice":false},"axis":null},"text":{"field":"p","type":"nominal"}}},
{"data":{"name":"pv"},"transform":[{"filter":"datum.panel === 'MDSC' && datum.rank === 2"}],"mark":{"type":"text","baseline":"bottom","dy":-4,"fontSize":11,"font":"Liberation Sans","color":"#1a1a1a"},"encoding":{"x":{"field":"mid","type":"nominal","bandPosition":0},"y":{"field":"rank","type":"quantitative","scale":{"domain":[1,3],"range":[1,-57],"zero":false,"nice":false},"axis":null},"text":{"field":"p","type":"nominal"}}}
]}
],
"resolve": {"scale": {"y": "independent"}}
}
]
},
{
"title": {"text": "(B)", "anchor": "start", "fontSize": 11, "offset": -12, "dx": -35},
"spacing": 72,
"hconcat": [
{
"width": 136, "height": 130,
"title": {"text": "Classical Monocytes", "anchor": "middle", "frame": "group", "offset": 12, "dx": -73},
"layer": [
{"data": {"name": "cells"}, "transform": [{"filter": "datum.panel === 'CM'"}],
"layer": [
{"transform":[{"filter":"datum.cat === 'MIS-C'"},{"density":"v","groupby":["cat"],"bandwidth":90,"extent":[0,2500],"steps":200},{"filter":"datum.density > 0.00003"}],"layer":[{"mark":{"type":"line","color":"#3f1f72","strokeWidth":1.5},"encoding":{"x":{"field":"cat","type":"nominal"},"xOffset":{"field":"density","type":"quantitative","scale":{"zero":true,"nice":false,"range":[12.6,1.6]}},"y":{"field":"value","type":"quantitative"},"order":{"field":"value","type":"quantitative"}}},{"mark":{"type":"line","color":"#3f1f72","strokeWidth":1.5},"encoding":{"x":{"field":"cat","type":"nominal"},"xOffset":{"field":"density","type":"quantitative","scale":{"zero":true,"nice":false,"range":[12.6,23.6]}},"y":{"field":"value","type":"quantitative"},"order":{"field":"value","type":"quantitative"}}}],"resolve":{"scale":{"xOffset":"independent"}}},
{"transform":[{"filter":"datum.cat === 'Acute COVID-19'"},{"density":"v","groupby":["cat"],"bandwidth":90,"extent":[0,2500],"steps":200},{"filter":"datum.density > 0.00003"}],"layer":[{"mark":{"type":"line","color":"#1a63e0","strokeWidth":1.5},"encoding":{"x":{"field":"cat","type":"nominal"},"xOffset":{"field":"density","type":"quantitative","scale":{"zero":true,"nice":false,"range":[12.6,1.6]}},"y":{"field":"value","type":"quantitative"},"order":{"field":"value","type":"quantitative"}}},{"mark":{"type":"line","color":"#1a63e0","strokeWidth":1.5},"encoding":{"x":{"field":"cat","type":"nominal"},"xOffset":{"field":"density","type":"quantitative","scale":{"zero":true,"nice":false,"range":[12.6,23.6]}},"y":{"field":"value","type":"quantitative"},"order":{"field":"value","type":"quantitative"}}}],"resolve":{"scale":{"xOffset":"independent"}}},
{"transform":[{"filter":"datum.cat === 'Other infections'"},{"density":"v","groupby":["cat"],"bandwidth":90,"extent":[0,2500],"steps":200},{"filter":"datum.density > 0.00003"}],"layer":[{"mark":{"type":"line","color":"#137a82","strokeWidth":1.5},"encoding":{"x":{"field":"cat","type":"nominal"},"xOffset":{"field":"density","type":"quantitative","scale":{"zero":true,"nice":false,"range":[12.6,1.6]}},"y":{"field":"value","type":"quantitative"},"order":{"field":"value","type":"quantitative"}}},{"mark":{"type":"line","color":"#137a82","strokeWidth":1.5},"encoding":{"x":{"field":"cat","type":"nominal"},"xOffset":{"field":"density","type":"quantitative","scale":{"zero":true,"nice":false,"range":[12.6,23.6]}},"y":{"field":"value","type":"quantitative"},"order":{"field":"value","type":"quantitative"}}}],"resolve":{"scale":{"xOffset":"independent"}}},
{"transform":[{"filter":"datum.cat === 'Other non Infections'"},{"density":"v","groupby":["cat"],"bandwidth":90,"extent":[0,2500],"steps":200},{"filter":"datum.density > 0.00003"}],"layer":[{"mark":{"type":"line","color":"#ff6a0e","strokeWidth":1.5},"encoding":{"x":{"field":"cat","type":"nominal"},"xOffset":{"field":"density","type":"quantitative","scale":{"zero":true,"nice":false,"range":[12.6,1.6]}},"y":{"field":"value","type":"quantitative"},"order":{"field":"value","type":"quantitative"}}},{"mark":{"type":"line","color":"#ff6a0e","strokeWidth":1.5},"encoding":{"x":{"field":"cat","type":"nominal"},"xOffset":{"field":"density","type":"quantitative","scale":{"zero":true,"nice":false,"range":[12.6,23.6]}},"y":{"field":"value","type":"quantitative"},"order":{"field":"value","type":"quantitative"}}}],"resolve":{"scale":{"xOffset":"independent"}}},
{"transform":[{"filter":"datum.cat === 'Contols'"},{"density":"v","groupby":["cat"],"bandwidth":90,"extent":[0,2500],"steps":200},{"filter":"datum.density > 0.00003"}],"layer":[{"mark":{"type":"line","color":"#ff2b2b","strokeWidth":1.5},"encoding":{"x":{"field":"cat","type":"nominal"},"xOffset":{"field":"density","type":"quantitative","scale":{"zero":true,"nice":false,"range":[12.6,1.6]}},"y":{"field":"value","type":"quantitative"},"order":{"field":"value","type":"quantitative"}}},{"mark":{"type":"line","color":"#ff2b2b","strokeWidth":1.5},"encoding":{"x":{"field":"cat","type":"nominal"},"xOffset":{"field":"density","type":"quantitative","scale":{"zero":true,"nice":false,"range":[12.6,23.6]}},"y":{"field":"value","type":"quantitative"},"order":{"field":"value","type":"quantitative"}}}],"resolve":{"scale":{"xOffset":"independent"}}},
{"mark":{"type":"circle","size":9,"opacity":0.95},"encoding":{"x":{"field":"cat","type":"nominal","scale":{"type":"band","domain":["MIS-C","Acute COVID-19","Other infections","Other non Infections","Contols"],"paddingInner":0,"paddingOuter":0.2},"axis":{"title":null}},"y":{"field":"v","type":"quantitative","scale":{"domain":[0,2500],"nice":false,"zero":false},"axis":{"title":"Absolute count (μl)","values":[0,500,1000,1500,2000,2500],"tickCount":20,"labelOverlap":false}},"fill":{"field":"cat","type":"nominal","scale":{"domain":["MIS-C","Acute COVID-19","Other infections","Other non Infections","Contols"],"range":["#a58fd3","#2cc3f2","#66c2c2","#f8a06a","#f37f7f"]},"legend":null}}}
],
"resolve": {"scale": {"xOffset": "independent"}}},
{"layer": [
{"data":{"name":"brk"},"mark":{"type":"line","color":"#555555","strokeWidth":1.2},"encoding":{"x":{"field":"cat","type":"nominal"},"y":{"field":"rank","type":"quantitative","scale":{"domain":[1,3],"range":[12,-47],"zero":false,"nice":false},"axis":null},"detail":{"field":"rank","type":"nominal"}}},
{"data":{"name":"brk"},"mark":{"type":"tick","orient":"vertical","size":8,"thickness":1.2,"yOffset":4,"color":"#555555"},"encoding":{"x":{"field":"cat","type":"nominal"},"y":{"field":"rank","type":"quantitative","scale":{"domain":[1,3],"range":[12,-47],"zero":false,"nice":false},"axis":null}}},
{"data":{"name":"pv"},"transform":[{"filter":"datum.panel === 'CM' && datum.rank !== 2"}],"mark":{"type":"text","baseline":"bottom","dy":-4,"fontSize":11,"font":"Liberation Sans","color":"#1a1a1a"},"encoding":{"x":{"field":"mid","type":"nominal","bandPosition":0.5},"y":{"field":"rank","type":"quantitative","scale":{"domain":[1,3],"range":[12,-47],"zero":false,"nice":false},"axis":null},"text":{"field":"p","type":"nominal"}}},
{"data":{"name":"pv"},"transform":[{"filter":"datum.panel === 'CM' && datum.rank === 2"}],"mark":{"type":"text","baseline":"bottom","dy":-4,"fontSize":11,"font":"Liberation Sans","color":"#1a1a1a"},"encoding":{"x":{"field":"mid","type":"nominal","bandPosition":0},"y":{"field":"rank","type":"quantitative","scale":{"domain":[1,3],"range":[12,-47],"zero":false,"nice":false},"axis":null},"text":{"field":"p","type":"nominal"}}}
]}
],
"resolve": {"scale": {"y": "independent"}}
},
{
"width": 136, "height": 130,
"title": {"text": "Intermediate Monocytes", "anchor": "middle", "frame": "group", "offset": 12, "dx": -8},
"layer": [
{"data": {"name": "cells"}, "transform": [{"filter": "datum.panel === 'IM'"}],
"layer": [
{"transform":[{"filter":"datum.cat === 'MIS-C'"},{"density":"v","groupby":["cat"],"bandwidth":7,"extent":[0,150],"steps":200},{"filter":"datum.density > 0.0005"}],"layer":[{"mark":{"type":"line","color":"#3f1f72","strokeWidth":1.5},"encoding":{"x":{"field":"cat","type":"nominal"},"xOffset":{"field":"density","type":"quantitative","scale":{"zero":true,"nice":false,"range":[12.6,1.6]}},"y":{"field":"value","type":"quantitative"},"order":{"field":"value","type":"quantitative"}}},{"mark":{"type":"line","color":"#3f1f72","strokeWidth":1.5},"encoding":{"x":{"field":"cat","type":"nominal"},"xOffset":{"field":"density","type":"quantitative","scale":{"zero":true,"nice":false,"range":[12.6,23.6]}},"y":{"field":"value","type":"quantitative"},"order":{"field":"value","type":"quantitative"}}}],"resolve":{"scale":{"xOffset":"independent"}}},
{"transform":[{"filter":"datum.cat === 'Acute COVID-19'"},{"density":"v","groupby":["cat"],"bandwidth":7,"extent":[0,150],"steps":200},{"filter":"datum.density > 0.0005"}],"layer":[{"mark":{"type":"line","color":"#1a63e0","strokeWidth":1.5},"encoding":{"x":{"field":"cat","type":"nominal"},"xOffset":{"field":"density","type":"quantitative","scale":{"zero":true,"nice":false,"range":[12.6,1.6]}},"y":{"field":"value","type":"quantitative"},"order":{"field":"value","type":"quantitative"}}},{"mark":{"type":"line","color":"#1a63e0","strokeWidth":1.5},"encoding":{"x":{"field":"cat","type":"nominal"},"xOffset":{"field":"density","type":"quantitative","scale":{"zero":true,"nice":false,"range":[12.6,23.6]}},"y":{"field":"value","type":"quantitative"},"order":{"field":"value","type":"quantitative"}}}],"resolve":{"scale":{"xOffset":"independent"}}},
{"transform":[{"filter":"datum.cat === 'Other infections'"},{"density":"v","groupby":["cat"],"bandwidth":7,"extent":[0,150],"steps":200},{"filter":"datum.density > 0.0005"}],"layer":[{"mark":{"type":"line","color":"#137a82","strokeWidth":1.5},"encoding":{"x":{"field":"cat","type":"nominal"},"xOffset":{"field":"density","type":"quantitative","scale":{"zero":true,"nice":false,"range":[12.6,1.6]}},"y":{"field":"value","type":"quantitative"},"order":{"field":"value","type":"quantitative"}}},{"mark":{"type":"line","color":"#137a82","strokeWidth":1.5},"encoding":{"x":{"field":"cat","type":"nominal"},"xOffset":{"field":"density","type":"quantitative","scale":{"zero":true,"nice":false,"range":[12.6,23.6]}},"y":{"field":"value","type":"quantitative"},"order":{"field":"value","type":"quantitative"}}}],"resolve":{"scale":{"xOffset":"independent"}}},
{"transform":[{"filter":"datum.cat === 'Other non Infections'"},{"density":"v","groupby":["cat"],"bandwidth":7,"extent":[0,150],"steps":200},{"filter":"datum.density > 0.0005"}],"layer":[{"mark":{"type":"line","color":"#ff6a0e","strokeWidth":1.5},"encoding":{"x":{"field":"cat","type":"nominal"},"xOffset":{"field":"density","type":"quantitative","scale":{"zero":true,"nice":false,"range":[12.6,1.6]}},"y":{"field":"value","type":"quantitative"},"order":{"field":"value","type":"quantitative"}}},{"mark":{"type":"line","color":"#ff6a0e","strokeWidth":1.5},"encoding":{"x":{"field":"cat","type":"nominal"},"xOffset":{"field":"density","type":"quantitative","scale":{"zero":true,"nice":false,"range":[12.6,23.6]}},"y":{"field":"value","type":"quantitative"},"order":{"field":"value","type":"quantitative"}}}],"resolve":{"scale":{"xOffset":"independent"}}},
{"transform":[{"filter":"datum.cat === 'Contols'"},{"density":"v","groupby":["cat"],"bandwidth":7,"extent":[0,150],"steps":200},{"filter":"datum.density > 0.0005"}],"layer":[{"mark":{"type":"line","color":"#ff2b2b","strokeWidth":1.5},"encoding":{"x":{"field":"cat","type":"nominal"},"xOffset":{"field":"density","type":"quantitative","scale":{"zero":true,"nice":false,"range":[12.6,1.6]}},"y":{"field":"value","type":"quantitative"},"order":{"field":"value","type":"quantitative"}}},{"mark":{"type":"line","color":"#ff2b2b","strokeWidth":1.5},"encoding":{"x":{"field":"cat","type":"nominal"},"xOffset":{"field":"density","type":"quantitative","scale":{"zero":true,"nice":false,"range":[12.6,23.6]}},"y":{"field":"value","type":"quantitative"},"order":{"field":"value","type":"quantitative"}}}],"resolve":{"scale":{"xOffset":"independent"}}},
{"mark":{"type":"circle","size":9,"opacity":0.95},"encoding":{"x":{"field":"cat","type":"nominal","scale":{"type":"band","domain":["MIS-C","Acute COVID-19","Other infections","Other non Infections","Contols"],"paddingInner":0,"paddingOuter":0.2},"axis":{"title":null}},"y":{"field":"v","type":"quantitative","scale":{"domain":[0,150],"nice":false,"zero":false},"axis":{"title":"Absolute count (μl)","values":[0,50,100,150],"tickCount":20,"labelOverlap":false}},"fill":{"field":"cat","type":"nominal","scale":{"domain":["MIS-C","Acute COVID-19","Other infections","Other non Infections","Contols"],"range":["#a58fd3","#2cc3f2","#66c2c2","#f8a06a","#f37f7f"]},"legend":null}}}
],
"resolve": {"scale": {"xOffset": "independent"}}},
{"layer": [
{"data":{"name":"brk"},"mark":{"type":"line","color":"#555555","strokeWidth":1.2},"encoding":{"x":{"field":"cat","type":"nominal"},"y":{"field":"rank","type":"quantitative","scale":{"domain":[1,3],"range":[-1,-56],"zero":false,"nice":false},"axis":null},"detail":{"field":"rank","type":"nominal"}}},
{"data":{"name":"brk"},"mark":{"type":"tick","orient":"vertical","size":8,"thickness":1.2,"yOffset":4,"color":"#555555"},"encoding":{"x":{"field":"cat","type":"nominal"},"y":{"field":"rank","type":"quantitative","scale":{"domain":[1,3],"range":[-1,-56],"zero":false,"nice":false},"axis":null}}},
{"data":{"name":"pv"},"transform":[{"filter":"datum.panel === 'IM' && datum.rank !== 2"}],"mark":{"type":"text","baseline":"bottom","dy":-4,"fontSize":11,"font":"Liberation Sans","color":"#1a1a1a"},"encoding":{"x":{"field":"mid","type":"nominal","bandPosition":0.5},"y":{"field":"rank","type":"quantitative","scale":{"domain":[1,3],"range":[-1,-56],"zero":false,"nice":false},"axis":null},"text":{"field":"p","type":"nominal"}}},
{"data":{"name":"pv"},"transform":[{"filter":"datum.panel === 'IM' && datum.rank === 2"}],"mark":{"type":"text","baseline":"bottom","dy":-4,"fontSize":11,"font":"Liberation Sans","color":"#1a1a1a"},"encoding":{"x":{"field":"mid","type":"nominal","bandPosition":0},"y":{"field":"rank","type":"quantitative","scale":{"domain":[1,3],"range":[-1,-56],"zero":false,"nice":false},"axis":null},"text":{"field":"p","type":"nominal"}}}
]}
],
"resolve": {"scale": {"y": "independent"}}
},
{
"width": 128, "height": 130,
"title": {"text": "Non-classical Monocytes", "anchor": "middle", "frame": "group", "offset": 12, "dx": -26, "fontSize": 11},
"layer": [
{"data": {"name": "cells"}, "transform": [{"filter": "datum.panel === 'NCM'"}],
"layer": [
{"transform":[{"filter":"datum.cat === 'MIS-C'"},{"density":"v","groupby":["cat"],"bandwidth":42,"extent":[-200,600],"steps":200},{"filter":"datum.density > 0.00008"}],"layer":[{"mark":{"type":"line","color":"#3f1f72","strokeWidth":1.5},"encoding":{"x":{"field":"cat","type":"nominal"},"xOffset":{"field":"density","type":"quantitative","scale":{"zero":true,"nice":false,"range":[11.85,0.9]}},"y":{"field":"value","type":"quantitative"},"order":{"field":"value","type":"quantitative"}}},{"mark":{"type":"line","color":"#3f1f72","strokeWidth":1.5},"encoding":{"x":{"field":"cat","type":"nominal"},"xOffset":{"field":"density","type":"quantitative","scale":{"zero":true,"nice":false,"range":[11.85,22.8]}},"y":{"field":"value","type":"quantitative"},"order":{"field":"value","type":"quantitative"}}}],"resolve":{"scale":{"xOffset":"independent"}}},
{"transform":[{"filter":"datum.cat === 'Acute COVID-19'"},{"density":"v","groupby":["cat"],"bandwidth":42,"extent":[-200,600],"steps":200},{"filter":"datum.density > 0.00008"}],"layer":[{"mark":{"type":"line","color":"#1a63e0","strokeWidth":1.5},"encoding":{"x":{"field":"cat","type":"nominal"},"xOffset":{"field":"density","type":"quantitative","scale":{"zero":true,"nice":false,"range":[11.85,0.9]}},"y":{"field":"value","type":"quantitative"},"order":{"field":"value","type":"quantitative"}}},{"mark":{"type":"line","color":"#1a63e0","strokeWidth":1.5},"encoding":{"x":{"field":"cat","type":"nominal"},"xOffset":{"field":"density","type":"quantitative","scale":{"zero":true,"nice":false,"range":[11.85,22.8]}},"y":{"field":"value","type":"quantitative"},"order":{"field":"value","type":"quantitative"}}}],"resolve":{"scale":{"xOffset":"independent"}}},
{"transform":[{"filter":"datum.cat === 'Other infections'"},{"density":"v","groupby":["cat"],"bandwidth":42,"extent":[-200,600],"steps":200},{"filter":"datum.density > 0.00008"}],"layer":[{"mark":{"type":"line","color":"#137a82","strokeWidth":1.5},"encoding":{"x":{"field":"cat","type":"nominal"},"xOffset":{"field":"density","type":"quantitative","scale":{"zero":true,"nice":false,"range":[11.85,0.9]}},"y":{"field":"value","type":"quantitative"},"order":{"field":"value","type":"quantitative"}}},{"mark":{"type":"line","color":"#137a82","strokeWidth":1.5},"encoding":{"x":{"field":"cat","type":"nominal"},"xOffset":{"field":"density","type":"quantitative","scale":{"zero":true,"nice":false,"range":[11.85,22.8]}},"y":{"field":"value","type":"quantitative"},"order":{"field":"value","type":"quantitative"}}}],"resolve":{"scale":{"xOffset":"independent"}}},
{"transform":[{"filter":"datum.cat === 'Other non Infections'"},{"density":"v","groupby":["cat"],"bandwidth":42,"extent":[-200,600],"steps":200},{"filter":"datum.density > 0.00008"}],"layer":[{"mark":{"type":"line","color":"#ff6a0e","strokeWidth":1.5},"encoding":{"x":{"field":"cat","type":"nominal"},"xOffset":{"field":"density","type":"quantitative","scale":{"zero":true,"nice":false,"range":[11.85,0.9]}},"y":{"field":"value","type":"quantitative"},"order":{"field":"value","type":"quantitative"}}},{"mark":{"type":"line","color":"#ff6a0e","strokeWidth":1.5},"encoding":{"x":{"field":"cat","type":"nominal"},"xOffset":{"field":"density","type":"quantitative","scale":{"zero":true,"nice":false,"range":[11.85,22.8]}},"y":{"field":"value","type":"quantitative"},"order":{"field":"value","type":"quantitative"}}}],"resolve":{"scale":{"xOffset":"independent"}}},
{"transform":[{"filter":"datum.cat === 'Contols'"},{"density":"v","groupby":["cat"],"bandwidth":42,"extent":[-200,600],"steps":200},{"filter":"datum.density > 0.00008"}],"layer":[{"mark":{"type":"line","color":"#ff2b2b","strokeWidth":1.5},"encoding":{"x":{"field":"cat","type":"nominal"},"xOffset":{"field":"density","type":"quantitative","scale":{"zero":true,"nice":false,"range":[11.85,0.9]}},"y":{"field":"value","type":"quantitative"},"order":{"field":"value","type":"quantitative"}}},{"mark":{"type":"line","color":"#ff2b2b","strokeWidth":1.5},"encoding":{"x":{"field":"cat","type":"nominal"},"xOffset":{"field":"density","type":"quantitative","scale":{"zero":true,"nice":false,"range":[11.85,22.8]}},"y":{"field":"value","type":"quantitative"},"order":{"field":"value","type":"quantitative"}}}],"resolve":{"scale":{"xOffset":"independent"}}},
{"mark":{"type":"circle","size":9,"opacity":0.95},"encoding":{"x":{"field":"cat","type":"nominal","scale":{"type":"band","domain":["MIS-C","Acute COVID-19","Other infections","Other non Infections","Contols"],"paddingInner":0,"paddingOuter":0.2},"axis":{"title":null}},"y":{"field":"v","type":"quantitative","scale":{"domain":[-200,600],"nice":false,"zero":false},"axis":{"title":"Absolute count (μl)","values":[-200,0,200,400,600],"tickCount":20,"labelOverlap":false,"grid":true,"gridColor":"#1a1a1a","gridDash":[2,2],"gridWidth":1.2,"gridOpacity":{"condition":{"test":"datum.value === 0","value":1},"value":0}}},"fill":{"field":"cat","type":"nominal","scale":{"domain":["MIS-C","Acute COVID-19","Other infections","Other non Infections","Contols"],"range":["#a58fd3","#2cc3f2","#66c2c2","#f8a06a","#f37f7f"]},"legend":null}}}
],
"resolve": {"scale": {"xOffset": "independent"}}},
{"layer": [
{"data":{"name":"brk"},"mark":{"type":"line","color":"#555555","strokeWidth":1.2},"encoding":{"x":{"field":"cat","type":"nominal"},"y":{"field":"rank","type":"quantitative","scale":{"domain":[1,3],"range":[-3,-58],"zero":false,"nice":false},"axis":null},"detail":{"field":"rank","type":"nominal"}}},
{"data":{"name":"brk"},"mark":{"type":"tick","orient":"vertical","size":8,"thickness":1.2,"yOffset":4,"color":"#555555"},"encoding":{"x":{"field":"cat","type":"nominal"},"y":{"field":"rank","type":"quantitative","scale":{"domain":[1,3],"range":[-3,-58],"zero":false,"nice":false},"axis":null}}},
{"data":{"name":"pv"},"transform":[{"filter":"datum.panel === 'NCM' && datum.rank !== 2"}],"mark":{"type":"text","baseline":"bottom","dy":-4,"fontSize":11,"font":"Liberation Sans","color":"#1a1a1a"},"encoding":{"x":{"field":"mid","type":"nominal","bandPosition":0.5},"y":{"field":"rank","type":"quantitative","scale":{"domain":[1,3],"range":[-3,-58],"zero":false,"nice":false},"axis":null},"text":{"field":"p","type":"nominal"}}},
{"data":{"name":"pv"},"transform":[{"filter":"datum.panel === 'NCM' && datum.rank === 2"}],"mark":{"type":"text","baseline":"bottom","dy":-4,"fontSize":11,"font":"Liberation Sans","color":"#1a1a1a"},"encoding":{"x":{"field":"mid","type":"nominal","bandPosition":0},"y":{"field":"rank","type":"quantitative","scale":{"domain":[1,3],"range":[-3,-58],"zero":false,"nice":false},"axis":null},"text":{"field":"p","type":"nominal"}}}
]}
],
"resolve": {"scale": {"y": "independent"}}
}
]
}
]
}
